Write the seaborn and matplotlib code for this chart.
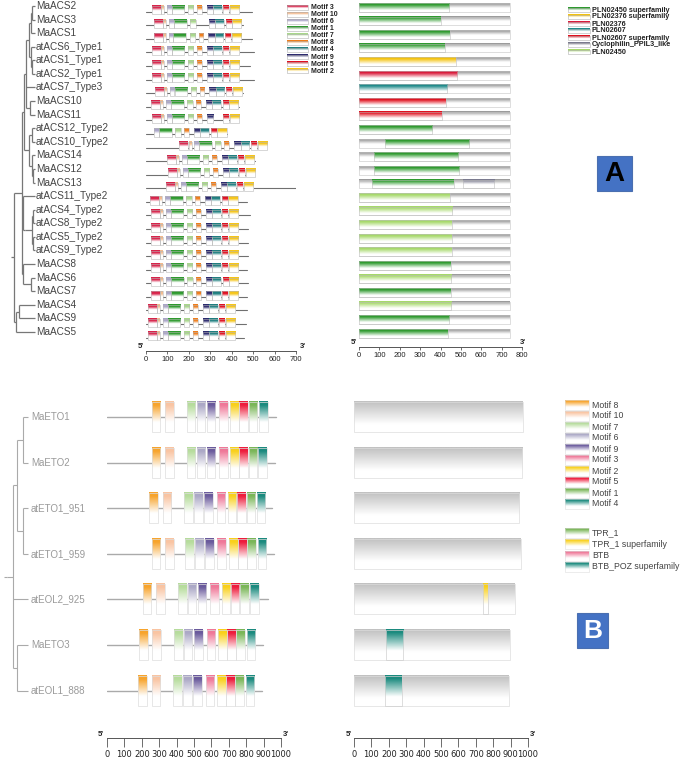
import numpy as np
import pandas as pd
import matplotlib
matplotlib.use("Agg")
import matplotlib.pyplot as plt
import seaborn as sns
from matplotlib.colors import to_rgb
from matplotlib.patches import Rectangle

# ---------------- data: panel A (ACS) ----------------
acs_names = ["MaACS2", "MaACS3", "MaACS1", "atACS6_Type1", "atACS1_Type1", "atACS2_Type1",
             "atACS7_Type3", "MaACS10", "MaACS11", "atACS12_Type2", "atACS10_Type2", "MaACS14",
             "MaACS12", "MaACS13", "atACS11_Type2", "atACS4_Type2", "atACS8_Type2", "atACS5_Type2",
             "atACS9_Type2", "MaACS8", "MaACS6", "MaACS7", "MaACS4", "MaACS9", "MaACS5"]
acs_length = [495, 452, 495, 505, 485, 505, 452, 435, 425, 378, 565, 510, 510, 705,
              470, 485, 477, 477, 477, 473, 477, 473, 470, 467, 459]
acs_motif_names = ["Motif 3", "Motif 10", "Motif 6", "Motif 1", "Motif 7", "Motif 8",
                   "Motif 9", "Motif 4", "Motif 5", "Motif 2"]
acs_motif_start = [27, 70, 97, 120, 195, 237, 283, 313, 361, 392]
acs_motif_width = [42, 14, 23, 59, 26, 23, 30, 40, 28, 43]
acs_motif_shift = [0, 10, 8, 0, 0, 0, 13, -4, 0, -59, 129, 70, 75, 65,
                   -8, -5, -5, -5, -5, -5, -4, -5, -19, -19, -19]
acs_motif_absent = {"MaACS3": ["Motif 8"], "MaACS11": ["Motif 4"],
                    "atACS12_Type2": ["Motif 3", "Motif 10"]}
acs_legend_motifs = ["Motif 3", "Motif 10", "Motif 6", "Motif 1", "Motif 7", "Motif 8",
                     "Motif 4", "Motif 9", "Motif 5", "Motif 2"]
acs_motif_colors = {"Motif 3": "#d8234a", "Motif 10": "#f3b98c", "Motif 6": "#a9a4c8",
                    "Motif 1": "#2e9a2e", "Motif 7": "#a8d88a", "Motif 8": "#ef7d1a",
                    "Motif 4": "#1f7f80", "Motif 9": "#2c2a6e", "Motif 5": "#e01020",
                    "Motif 2": "#f6c518"}

acs_dom_total = [741] * 25
acs_dom_type = ["PLN02450 superfamily", "PLN02450 superfamily", "PLN02450 superfamily",
                "PLN02450 superfamily", "PLN02376 superfamily", "PLN02376", "PLN02607",
                "PLN02607 superfamily", "PLN02607 superfamily", "PLN02450 superfamily",
                "PLN02450 superfamily", "PLN02450 superfamily", "PLN02450 superfamily",
                "PLN02450 superfamily", "PLN02450", "PLN02450", "PLN02450", "PLN02450",
                "PLN02450", "PLN02450 superfamily", "PLN02450", "PLN02450 superfamily",
                "PLN02450", "PLN02450 superfamily", "PLN02450 superfamily"]
acs_dom_start = [0, 0, 0, 0, 0, 0, 0, 0, 0, 0, 128, 75, 75, 66,
                 0, 0, 0, 0, 0, 0, 0, 0, 0, 0, 0]
acs_dom_end = [442, 401, 446, 422, 474, 483, 434, 425, 405, 360, 541, 488, 493, 468,
               446, 458, 455, 455, 455, 450, 452, 450, 452, 444, 435]
acs_extra_protein = ["MaACS13"]
acs_extra_type = ["Cyclophilin_PPIL3_like"]
acs_extra_start = [509]
acs_extra_end = [663]
acs_dom_legend = ["PLN02450 superfamily", "PLN02376 superfamily", "PLN02376", "PLN02607",
                  "PLN02607 superfamily", "Cyclophilin_PPIL3_like", "PLN02450"]
acs_dom_colors = {"PLN02450 superfamily": "#2e9a2e", "PLN02376 superfamily": "#f4c20d",
                  "PLN02376": "#d91a3a", "PLN02607": "#1f8a8a",
                  "PLN02607 superfamily": "#e0101e", "Cyclophilin_PPIL3_like": "#7a7a8e",
                  "PLN02450": "#a6d96a"}
acs_ticks = [0, 100, 200, 300, 400, 500, 600, 700]
acs_dom_ticks = [0, 100, 200, 300, 400, 500, 600, 700, 800]

treeA = (14, [
    (22, [
        (24, [
            (26, [
                (29, [(31, [(32, ["MaACS2", "MaACS3"]), "MaACS1"]),
                      (31, ["atACS6_Type1", (32, ["atACS1_Type1", "atACS2_Type1"])])]),
                "atACS7_Type3",
                (30, ["MaACS10", "MaACS11"])]),
            (29, [(32, ["atACS12_Type2", "atACS10_Type2"]),
                  (32, ["MaACS14", (33, ["MaACS12", "MaACS13"])])])]),
        (23, ["atACS11_Type2",
              (25, [(32, [(33, ["atACS4_Type2", "atACS8_Type2"]),
                          (33, ["atACS5_Type2", "atACS9_Type2"])])])]),
        (22.5, ["MaACS8", (31, ["MaACS6", "MaACS7"])])]),
    (16, [(19, ["MaACS4", "MaACS9"]), "MaACS5"])])

# ---------------- data: panel B (ETO) ----------------
eto_names = ["MaETO1", "MaETO2", "atETO1_951", "atETO1_959", "atEOL2_925", "MaETO3", "atEOL1_888"]
eto_length = [971, 966, 951, 959, 925, 895, 888]
eto_motif_names = ["Motif 8", "Motif 10", "Motif 7", "Motif 6", "Motif 9", "Motif 3",
                   "Motif 2", "Motif 5", "Motif 1", "Motif 4"]
eto_motif_start = [
    [257, 333, 458, 515, 573, 644, 707, 761, 814, 875],
    [257, 333, 458, 515, 573, 644, 707, 761, 814, 870],
    [241, 320, 444, 500, 557, 630, 694, 747, 803, 860],
    [257, 333, 448, 506, 563, 634, 701, 753, 806, 866],
    [205, 282, 410, 464, 521, 592, 659, 711, 764, 822],
    [186, 260, 387, 441, 500, 573, 640, 690, 741, 803],
    [180, 257, 381, 437, 496, 567, 634, 684, 736, 797]]
eto_motif_width = 50
eto_legend_motifs = ["Motif 8", "Motif 10", "Motif 7", "Motif 6", "Motif 9", "Motif 3",
                     "Motif 2", "Motif 5", "Motif 1", "Motif 4"]
eto_motif_colors = {"Motif 8": "#f7a42c", "Motif 10": "#f9c4a2", "Motif 7": "#b6dc9c",
                    "Motif 6": "#aba8c6", "Motif 9": "#6a5a9c", "Motif 3": "#ef7898",
                    "Motif 2": "#f9d01c", "Motif 5": "#ee1c3c", "Motif 1": "#7ab658",
                    "Motif 4": "#1b8a7e"}
eto_dom_protein = ["atEOL2_925", "MaETO3", "atEOL1_888"]
eto_dom_type = ["TPR_1 superfamily", "BTB_POZ superfamily", "BTB_POZ superfamily"]
eto_dom_start = [740, 182, 178]
eto_dom_end = [768, 280, 274]
eto_dom_legend = ["TPR_1", "TPR_1 superfamily", "BTB", "BTB_POZ superfamily"]
eto_dom_colors = {"TPR_1": "#7ab658", "TPR_1 superfamily": "#f9d01c", "BTB": "#ef7898",
                  "BTB_POZ superfamily": "#1b8a7e"}
eto_ticks = [0, 100, 200, 300, 400, 500, 600, 700, 800, 900, 1000]

treeB = (7, [(13, [(17, [(23, ["MaETO1", "MaETO2"]), (23, ["atETO1_951", "atETO1_959"])]),
                   "atEOL2_925",
                   (17, ["MaETO3", "atEOL1_888"])])])

# ---------------- figure setup ----------------
sns.set_theme(style="white")
plt.rcParams['font.family'] = ['Liberation Sans', 'DejaVu Sans']
W, H = 685, 759
fig = plt.figure(figsize=(W / 100, H / 100), dpi=100)
fig.patch.set_facecolor("white")


def make_axes(px0, px1, dx0, dx1, row0_px, row_step, ytop, ybot):
    """axes whose x data dx0..dx1 spans pixel px0..px1 and rows at row0_px + r*row_step"""
    y_top_px = row0_px + ytop * row_step
    y_bot_px = row0_px + ybot * row_step
    ax = fig.add_axes([px0 / W, 1 - y_bot_px / H, (px1 - px0) / W, (y_bot_px - y_top_px) / H])
    ax.patch.set_alpha(0)
    ax.set_xlim(dx0, dx1)
    ax.set_ylim(ybot, ytop)
    return ax


def grad(color, solid, fade, n=40):
    c = np.array(to_rgb(color))
    t = np.linspace(0, 1, n)
    w = np.clip((t - solid) / max(fade - solid, 1e-6), 0, 1)
    rgb = c[None, :] * (1 - w[:, None]) + w[:, None]
    return rgb[:, None, :]


def gbox(ax, x0, x1, ytop, ybot, color, solid, fade, edge="#c8c8c8", lw=0.5, z=3):
    ax.imshow(grad(color, solid, fade), extent=(x0, x1, ybot, ytop), origin="upper",
              aspect="auto", interpolation="bilinear", zorder=z, clip_on=False)
    ax.add_patch(Rectangle((x0, ytop), x1 - x0, ybot - ytop, fill=False, ec=edge, lw=lw,
                           zorder=z + 0.1, clip_on=False))


def draw_tree(ax, node, rows, leaf_x, color, lw, parent_x=None):
    if isinstance(node, str):
        y = rows[node]
        ax.plot([parent_x, leaf_x], [y, y], color=color, lw=lw, solid_capstyle="butt")
        return y
    x, kids = node
    ys = [draw_tree(ax, k, rows, leaf_x, color, lw, x) for k in kids]
    ax.plot([x, x], [min(ys), max(ys)], color=color, lw=lw, solid_capstyle="butt")
    y = (min(ys) + max(ys)) / 2
    ax.plot([parent_x if parent_x is not None else x - 3, x], [y, y], color=color, lw=lw,
            solid_capstyle="butt")
    return y


def ruler(ax, ticks, length, labelsize, pad, family=None):
    for s in ["top", "left", "right"]:
        ax.spines[s].set_visible(False)
    ax.spines["bottom"].set_color("#555")
    ax.spines["bottom"].set_linewidth(0.7)
    ax.set_xticks(ticks)
    ax.set_yticks([])
    ax.tick_params(axis="x", bottom=True, direction="out", length=length, width=0.6,
                   color="#555", labelsize=labelsize, pad=pad, labelcolor="#222")
    if family:
        for lab in ax.get_xticklabels():
            lab.set_family(family)
    ax.set_xlabel("")
    ax.set_ylabel("")


def backbones(ax, names, lengths, yoff, color, lw):
    df = pd.DataFrame({
        "x": np.ravel([[0, L] for L in lengths]).astype(float),
        "y": np.ravel([[i + yoff, i + yoff] for i in range(len(names))]).astype(float),
        "unit": np.repeat(names, 2)})
    sns.lineplot(data=df, x="x", y="y", units="unit", estimator=None, sort=False,
                 color=color, linewidth=lw, ax=ax, legend=False, zorder=2)


# ---------------- Panel A ----------------
rowA0, stepA = 6.0, 13.58
nA = len(acs_names)
rowsA = {n: i for i, n in enumerate(acs_names)}

axTA = make_axes(0, 145, 0, 145, rowA0, stepA, -0.8, 25.4)
axTA.axis("off")
draw_tree(axTA, treeA, rowsA, 35, "#777777", 0.9)
for n, i in rowsA.items():
    axTA.text(36, i, n, ha="left", va="center", fontsize=7.2, color="#444444")
axTA.set_xlim(0, 145)
axTA.set_ylim(25.4, -0.8)

axMA = make_axes(146, 296, 0, 700, rowA0, stepA, -0.8, 25.4)
backbones(axMA, acs_names, acs_length, 0.42, "#707070", 0.8)
for i, n in enumerate(acs_names):
    for m, s, w in zip(acs_motif_names, acs_motif_start, acs_motif_width):
        if m in acs_motif_absent.get(n, []):
            continue
        s0 = s + acs_motif_shift[i]
        gbox(axMA, s0, s0 + w, i + 0.02, i + 0.62, acs_motif_colors[m], 0.28, 0.6,
             edge="#b8b8b8", lw=0.4)
axMA.set_xlim(0, 700)
axMA.set_ylim(25.4, -0.8)
ruler(axMA, acs_ticks, 2.5, 5.5, 1.0)

axDA = make_axes(359, 522, 0, 800, rowA0, stepA, -0.8, 25.1)
for i, n in enumerate(acs_names):
    gbox(axDA, 0, acs_dom_total[i], i - 0.22, i + 0.42, "#9a9a9a", 0.06, 0.55,
         edge="#c4c4c4", lw=0.4, z=2)
    gbox(axDA, acs_dom_start[i], acs_dom_end[i], i - 0.22, i + 0.42,
         acs_dom_colors[acs_dom_type[i]], 0.18, 0.8, edge="#bdbdbd", lw=0.4, z=3)
for p, t, s, e in zip(acs_extra_protein, acs_extra_type, acs_extra_start, acs_extra_end):
    i = rowsA[p]
    gbox(axDA, s, e, i - 0.22, i + 0.42, acs_dom_colors[t], 0.1, 0.6,
         edge="#bdbdbd", lw=0.4, z=3)
axDA.set_xlim(0, 800)
axDA.set_ylim(25.1, -0.8)
ruler(axDA, acs_dom_ticks, 2.5, 5.5, 1.0)

# ---------------- Panel B ----------------
rowB0, stepB = 417.0, 45.6
rowsB = {n: i for i, n in enumerate(eto_names)}

axTB = make_axes(0, 105, 0, 105, rowB0, stepB, -0.8, 7.04)
axTB.axis("off")
draw_tree(axTB, treeB, rowsB, 28, "#aaaaaa", 0.8)
for n, i in rowsB.items():
    axTB.text(31, i, n, ha="left", va="center", fontsize=7, color="#9a9a9a")
axTB.set_xlim(0, 105)
axTB.set_ylim(7.04, -0.8)

axMB = make_axes(107, 281, 0, 1000, rowB0, stepB, -0.8, 7.04)
backbones(axMB, eto_names, eto_length, 0.0, "#aaaaaa", 1.0)
for i, n in enumerate(eto_names):
    for m, s in zip(eto_motif_names, eto_motif_start[i]):
        gbox(axMB, s, s + eto_motif_width, i - 0.33, i + 0.33, eto_motif_colors[m],
             0.12, 0.68, edge="#dddddd", lw=0.5)
axMB.set_xlim(0, 1000)
axMB.set_ylim(7.04, -0.8)
ruler(axMB, eto_ticks, 6.5, 6, 2.0, family="DejaVu Sans")

axDB = make_axes(354, 528, 0, 1000, rowB0, stepB, -0.8, 7.04)
for i, n in enumerate(eto_names):
    gbox(axDB, 0, eto_length[i], i - 0.33, i + 0.33, "#c2c2c2", 0.03, 0.75,
         edge="#dddddd", lw=0.5, z=2)
for p, t, s, e in zip(eto_dom_protein, eto_dom_type, eto_dom_start, eto_dom_end):
    i = rowsB[p]
    gbox(axDB, s, e, i - 0.33, i + 0.33, eto_dom_colors[t], 0.1, 0.7,
         edge="#d0d0d0", lw=0.5, z=3)
axDB.set_xlim(0, 1000)
axDB.set_ylim(7.04, -0.8)
ruler(axDB, eto_ticks, 6.5, 6, 2.0, family="DejaVu Sans")

# ---------------- overlay: legends, 5'/3', panel tags ----------------
ov = fig.add_axes([0, 0, 1, 1])
ov.patch.set_alpha(0)
ov.axis("off")

for k, m in enumerate(acs_legend_motifs):
    y = 7.5 + 7.08 * k
    gbox(ov, 287, 308, y - 2.2, y + 2.2, acs_motif_colors[m], 0.25, 0.6, edge="#b0b0b0", lw=0.4)
    ov.text(311, y, m, ha="left", va="center", fontsize=5, color="#222222", fontweight="bold")

for k, d in enumerate(acs_dom_legend):
    y = 10 + 7.0 * k
    gbox(ov, 568, 590, y - 2.2, y + 2.2, acs_dom_colors[d], 0.25, 0.6, edge="#b0b0b0", lw=0.4)
    ov.text(592, y, d, ha="left", va="center", fontsize=5.2, color="#222222", fontweight="bold")

for k, m in enumerate(eto_legend_motifs):
    y = 405 + 11.0 * k
    gbox(ov, 565, 589, y - 5, y + 5, eto_motif_colors[m], 0.12, 0.7, edge="#dddddd", lw=0.4)
    ov.text(592, y, m, ha="left", va="center", fontsize=6.3, color="#444444")

for k, d in enumerate(eto_dom_legend):
    y = 533 + 11.3 * k
    gbox(ov, 565, 589, y - 5, y + 5, eto_dom_colors[d], 0.12, 0.7, edge="#dddddd", lw=0.4)
    ov.text(592, y, d, ha="left", va="center", fontsize=6.3, color="#444444")

for x, y, s, ha in [(144, 347, "5'", "right"), (300, 347, "3'", "left"),
                    (357, 343, "5'", "right"), (520, 343, "3'", "left"),
                    (104, 734, "5'", "right"), (283, 734, "3'", "left"),
                    (352, 734, "5'", "right"), (530, 734, "3'", "left")]:
    ov.text(x, y, s, ha=ha, va="center", fontsize=5.5, color="#222222", fontweight="bold")

ov.add_patch(Rectangle((597, 156), 35, 35, fc="#4472c4", ec="#4a6fb0", lw=0.8, zorder=5))
ov.text(614.5, 174, "A", ha="center", va="center", fontsize=20, fontweight="bold",
        color="black", zorder=6)
ov.add_patch(Rectangle((577, 613), 31, 35, fc="#4472c4", ec="#4a6fb0", lw=0.8, zorder=5))
ov.text(592.5, 631, "B", ha="center", va="center", fontsize=19, fontweight="bold",
        color="white", zorder=6)
ov.set_xlim(0, W)
ov.set_ylim(H, 0)

fig.savefig("out.png", dpi=100, facecolor="white")
